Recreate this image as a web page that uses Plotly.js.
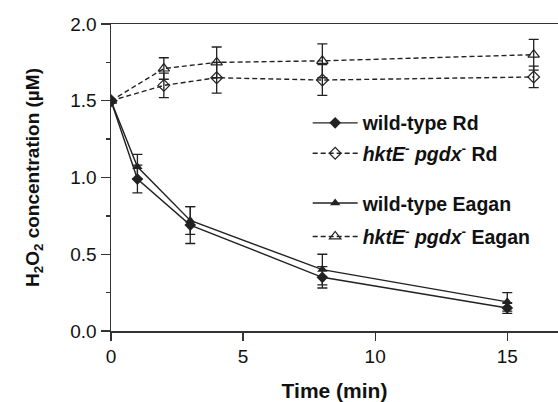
<!DOCTYPE html>
<html><head><meta charset="utf-8">
<script src="https://cdn.plot.ly/plotly-3.0.1.min.js"></script>
<style>body{margin:0;padding:0;background:#fff}#chart{width:558px;height:402px}</style>
</head><body><div id="chart"></div>
<script>
// Data
const timeWT = [0, 1, 3, 8, 15];
const wtRd = [1.5, 0.99, 0.69, 0.35, 0.15];
const wtRdErr = [0.0, 0.09, 0.12, 0.07, 0.035];
const wtEagan = [1.5, 1.07, 0.72, 0.40, 0.19];
const wtEaganErr = [0.0, 0.08, 0.09, 0.10, 0.06];

const timeMut = [0, 2, 4, 8, 16];
const mutRd = [1.5, 1.60, 1.65, 1.635, 1.655];
const mutRdErr = [0.0, 0.08, 0.10, 0.10, 0.07];
const mutEagan = [1.5, 1.71, 1.75, 1.76, 1.80];
const mutEaganErr = [0.0, 0.07, 0.10, 0.11, 0.10];

const names = [
  '<b>wild-type Rd</b>',
  '<b><i>hktE</i><sup>-</sup> <i>pgdx</i><sup>-</sup> Rd</b>',
  '<b>wild-type Eagan</b>',
  '<b><i>hktE</i><sup>-</sup> <i>pgdx</i><sup>-</sup> Eagan</b>'
];
const xTicks = [0, 5, 10, 15];
const yTicks = [0.0, 0.5, 1.0, 1.5, 2.0];

const black = '#222';
function errObj(arr){return {type:'data', array:arr, visible:true, color:black, thickness:1.3, width:5};}

const traces = [
  {x: timeWT, y: wtRd, name: names[0], legend:'legend', mode:'lines+markers', type:'scatter',
   line:{color:black, width:1.4}, marker:{symbol:'diamond', size:9, color:black},
   error_y: errObj(wtRdErr)},
  {x: timeMut, y: mutRd, name: names[1], legend:'legend2', mode:'lines+markers', type:'scatter',
   line:{color:black, width:1.4, dash:'5px,3px'}, marker:{symbol:'diamond-open', size:9, color:black, line:{width:1.2}},
   error_y: errObj(mutRdErr)},
  {x: timeWT, y: wtEagan, name: names[2], legend:'legend3', mode:'lines+markers', type:'scatter',
   line:{color:black, width:1.4}, marker:{symbol:'triangle-up', size:9, color:black},
   error_y: errObj(wtEaganErr)},
  {x: timeMut, y: mutEagan, name: names[3], legend:'legend4', mode:'lines+markers', type:'scatter',
   line:{color:black, width:1.4, dash:'5px,3px'}, marker:{symbol:'triangle-up-open', size:10, color:black, line:{width:1.2}},
   error_y: errObj(mutEaganErr)}
];

const font = {family:'"Liberation Sans", Arial, sans-serif', color:'#111'};
function leg(y){return {x:0.44, y:y, xanchor:'left', yanchor:'middle', bgcolor:'rgba(0,0,0,0)',
  borderwidth:0, font:{family:font.family, size:19.5, color:'#111'}, itemwidth:45};}

const layout = {
  width:558, height:402,
  margin:{l:111, r:0, t:24, b:71},
  paper_bgcolor:'#fff', plot_bgcolor:'#fff',
  font: font,
  showlegend:true,
  legend: leg(0.677), legend2: leg(0.578), legend3: leg(0.416), legend4: leg(0.307),
  xaxis:{range:[0,16.92], tickvals:xTicks, ticktext:xTicks.map(String), ticks:'outside', ticklen:8, tickwidth:1.3,
    tickcolor:'#333', showline:true, linecolor:'#333', linewidth:1.5, mirror:true, zeroline:false, showgrid:false,
    tickfont:{size:19, color:'#111'},
    title:{text:'<b>Time (min)</b>', font:{size:21, color:'#111'}, standoff:17}},
  yaxis:{range:[0,2.0], tickvals:yTicks, ticktext:yTicks.map(v=>v.toFixed(1)), ticks:'outside', ticklen:9, tickwidth:1.3,
    tickcolor:'#333', showline:true, linecolor:'#333', linewidth:1.5, zeroline:false, showgrid:false,
    minor:{dtick:0.25, tick0:0, ticks:'outside', ticklen:4, tickwidth:1.3, tickcolor:'#333'},
    tickfont:{size:19, color:'#111'},
    title:{text:'<b>H<sub>2</sub>O<sub>2</sub> concentration (µM)</b>', font:{size:19, color:'#111'}, standoff:25}}
};
Plotly.newPlot('chart', traces, layout, {displayModeBar:false, staticPlot:true});
</script></body></html>
